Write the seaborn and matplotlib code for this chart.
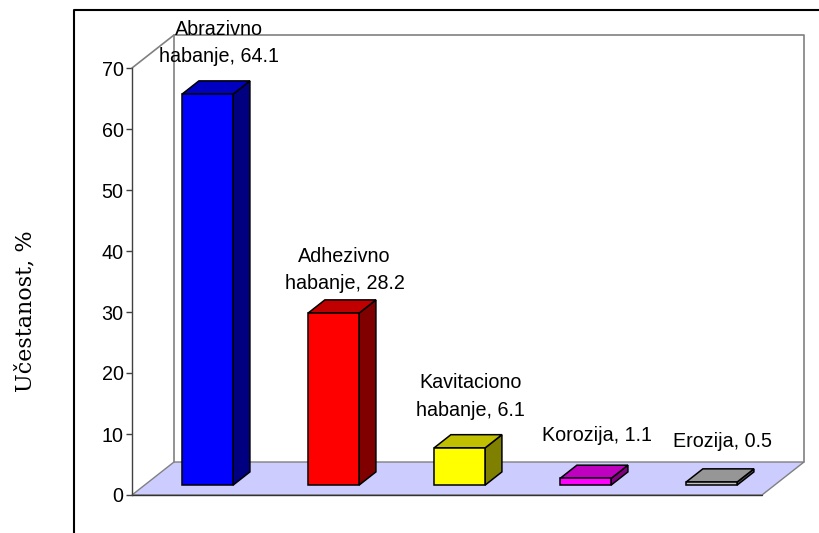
import matplotlib
matplotlib.use("Agg")
import matplotlib.pyplot as plt
import seaborn as sns
import pandas as pd
from matplotlib.patches import Polygon
from matplotlib.lines import Line2D

# Wear mechanisms and their share of occurrences (%)
categories = ["Abrazivno\nhabanje", "Adhezivno\nhabanje", "Kavitaciono\nhabanje",
              "Korozija", "Erozija"]
values = [64.1, 28.2, 6.1, 1.1, 0.5]
y_ticks = [0, 10, 20, 30, 40, 50, 60, 70]
y_label = "Učestanost, %"

# Face shading for the pseudo-3D columns
front_colors = ["#0000FF", "#FF0000", "#FFFF00", "#FF00FF", "#C0C0C0"]
top_colors = ["#0000C0", "#C00000", "#C0C000", "#C000C0", "#969696"]
side_colors = ["#000080", "#800000", "#808000", "#800080", "#5A5A5A"]
label_gap_px = [15, 7, 15, 20, 18]

sns.set_theme(style="white")
plt.rcParams["font.family"] = ["Liberation Sans", "DejaVu Sans"]

W, H, DPI = 820, 533, 100
fig = plt.figure(figsize=(W / DPI, H / DPI), dpi=DPI)
ax = fig.add_axes([0, 0, 1, 1])

# Pixel scale of the chart: one category slot and one value unit
PX_CAT, PX_VAL = 126.0, 6.1
DX, DY = 42.0 / PX_CAT, 33.0 / PX_VAL     # full floor depth in data units
D0, D1 = 0.3, 0.7                         # column depth range (fraction of floor depth)
y_max = y_ticks[-1]


def proj(cx, v, d):
    """Project a (category, value, depth) point onto the column front plane."""
    return (cx + (d - D0) * DX, v + (d - D0) * DY)


# origin of the data plane in pixels (floor front-left corner sits at 132, 495)
fx, fy = proj(-0.5, 0, 0)
x0_pix = 132 - fx * PX_CAT
y0_pix = 495 + fy * PX_VAL

df = pd.DataFrame({"kategorija": categories, "vrednost": values})
sns.barplot(data=df, x="kategorija", y="vrednost", hue="kategorija",
            palette=front_colors, width=0.405, saturation=1, errorbar=None,
            edgecolor="black", linewidth=1.1, legend=False, ax=ax, zorder=5)
bars = list(ax.patches)

n = len(categories)
# floor
floor = [proj(-0.5, 0, 0), proj(n - 0.5, 0, 0), proj(n - 0.5, 0, 1), proj(-0.5, 0, 1)]
ax.add_patch(Polygon(floor, closed=True, facecolor="#CCCCFF", edgecolor="#808080",
                     linewidth=1.0, zorder=1))
fl = list(zip(proj(-0.5, 0, 0), proj(n - 0.5, 0, 0)))
ax.plot(fl[0], fl[1], color="#333333", linewidth=1.0, zorder=2)

# back wall and left wall edges
wall = [proj(-0.5, 0, 1), proj(-0.5, y_max, 1), proj(n - 0.5, y_max, 1), proj(n - 0.5, 0, 1)]
ax.plot([p[0] for p in wall], [p[1] for p in wall], color="#808080", linewidth=1.2, zorder=1)
lw_edge = [proj(-0.5, y_max, 0), proj(-0.5, y_max, 1)]
ax.plot([p[0] for p in lw_edge], [p[1] for p in lw_edge], color="#808080",
        linewidth=1.2, zorder=1)

# top and side faces of each column, plus value labels
ddx, ddy = (D1 - D0) * DX, (D1 - D0) * DY
for i, r in enumerate(bars):
    x0, w, h = r.get_x(), r.get_width(), r.get_height()
    side = [(x0 + w, 0), (x0 + w + ddx, ddy), (x0 + w + ddx, h + ddy), (x0 + w, h)]
    top = [(x0, h), (x0 + w, h), (x0 + w + ddx, h + ddy), (x0 + ddx, h + ddy)]
    ax.add_patch(Polygon(side, closed=True, facecolor=side_colors[i], edgecolor="black",
                         linewidth=1.1, zorder=4))
    ax.add_patch(Polygon(top, closed=True, facecolor=top_colors[i], edgecolor="black",
                         linewidth=1.1, zorder=4))
    ax.annotate(f"{categories[i]}, {values[i]}",
                xy=(x0 + w / 2 + ddx / 2 + 0.02, h + ddy),
                xytext=(0, label_gap_px[i] * 72 / DPI), textcoords="offset points",
                ha="center", va="bottom", multialignment="center",
                fontsize=14.2, color="black", linespacing=1.55, zorder=6)

# axis limits follow the pixel calibration
ax.set_xlim((0 - x0_pix) / PX_CAT, (W - x0_pix) / PX_CAT)
ax.set_ylim((y0_pix - H) / PX_VAL, y0_pix / PX_VAL)
ax.set_xticks([])
ax.set_xlabel("")
ax.set_ylabel("")

# value axis at the front-left edge of the floor
for s in ["top", "right", "bottom"]:
    ax.spines[s].set_visible(False)
yax_x = proj(-0.5, 0, 0)[0]
off = proj(-0.5, 0, 0)[1]
ax.spines["left"].set_visible(True)
ax.spines["left"].set_position(("data", yax_x))
ax.spines["left"].set_bounds(off, y_max + off)
ax.spines["left"].set_color("#404040")
ax.spines["left"].set_linewidth(1.0)
ax.set_yticks([t + off for t in y_ticks])
ax.set_yticklabels([str(t) for t in y_ticks])
ax.tick_params(axis="y", direction="out", length=4, width=1.0, color="#404040",
               pad=2, labelsize=14.2, labelcolor="black", left=True)
ax.patch.set_alpha(0)

fig.text(25 / W, 1 - 311 / H, y_label, rotation=90, ha="center", va="center",
         fontsize=16, family=["DejaVu Serif", "Liberation Serif"], color="black")

# outer chart frame
fig.add_artist(Line2D([74 / W, 74 / W, 1.01], [-0.01, 1 - 10 / H, 1 - 10 / H],
                      transform=fig.transFigure, color="black", linewidth=1.5))

fig.savefig("out.png", dpi=DPI)
